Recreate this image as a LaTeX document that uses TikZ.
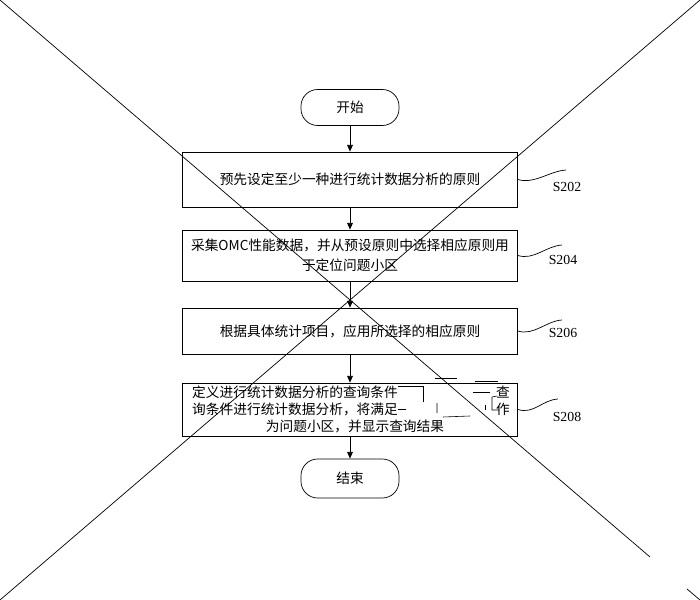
\documentclass[tikz,border=0pt]{standalone}
\usepackage{fontspec}
\newfontfamily\cjk{Noto Sans CJK SC}
\newfontfamily\lab{Liberation Serif}
\usetikzlibrary{arrows.meta}
\tikzset{
  stepbox/.style={draw,line width=0.6pt,minimum width=10.05cm,inner sep=0pt,align=center,font=\cjk\fontsize{11.7}{17}\selectfont},
  term/.style={draw,line width=0.6pt,rounded corners=0.5cm,minimum width=2.94cm,minimum height=1.08cm,font=\cjk\fontsize{11.7}{13}\selectfont},
  qtext/.style={inner sep=0pt,font=\cjk\fontsize{11.7}{13}\selectfont},
  steplab/.style={inner sep=0pt,font=\lab\fontsize{11.8}{13}\selectfont},
  flow/.style={-{Triangle[length=0.2cm,width=0.17cm]},line width=0.6pt}
}
\begin{document}
\begin{tikzpicture}[x=0.03cm,y=-0.03cm]
\useasboundingbox (0,0) rectangle (700,600);
\node[term] (start) at (350,107.5) {开始};
\node[stepbox,minimum height=1.65cm] (s202) at (350,179.5) {预先设定至少一种进行统计数据分析的原则};
\node[stepbox,minimum height=1.53cm] (s204) at (350,255.5) {采集OMC性能数据，并从预设原则中选择相应原则用\\于定位问题小区};
\node[stepbox,minimum height=1.38cm] (s206) at (350,331) {根据具体统计项目，应用所选择的相应原则};
\node[stepbox,minimum height=1.59cm] (s208) at (350,409.5) {};
\node[term,minimum height=1.17cm] (stop) at (350,478.5) {结束};
\node[qtext,anchor=west] (q1) at (192,392) {定义进行统计数据分析的查询条件};
\node[qtext,anchor=west] (q2) at (192,409) {询条件进行统计数据分析，将满足};
\node[qtext] (q3) at (355,426) {为问题小区，并显示查询结果};
\node[qtext] (q4) at (503,392) {查};
\node[qtext] (q5) at (503,409) {作};
\foreach \a/\b in {start/s202,s202/s204,s204/s206,s206/s208,s208/stop}
  \draw[flow] (\a.south) -- (\b.north);
\foreach \s/\ex/\ey/\lx/\ly in {202/566/170/567/187,204/562/245/563/260,206/562/320/563/333,208/558/399/567/417}{
  \coordinate (e\s) at (\ex,\ey);
  \node[steplab] (l\s) at (\lx,\ly) {S\s};
  \draw[line width=0.6pt] (s\s.east) .. controls +(16,5) and +(-16,1) .. (e\s);
}
\draw[line width=0.5pt] (q1.east) ++(0,-6) -- (423,386) -- (423,402);
\draw[line width=0.5pt] (q2.east) -- (406,409);
\draw[line width=0.5pt] (435,378) -- (457,378);
\draw[line width=0.5pt] (437,403) -- (437,413) (443,417) -- (470,416);
\draw[line width=0.5pt] (475,381) -- (498,381);
\draw[line width=0.5pt] (473,392) -- (490,392);
\draw[line width=0.5pt] (485,405) -- (485,410);
\draw[line width=0.5pt] (497,396) -- (492,397) -- (492,410) -- (499,410);
\draw[line width=0.6pt] (0,0) -- (650,557);
\draw[line width=0.6pt] (687,589) -- (700,600);
\draw[line width=0.6pt] (700,0) -- (0,600);
\end{tikzpicture}
\end{document}
